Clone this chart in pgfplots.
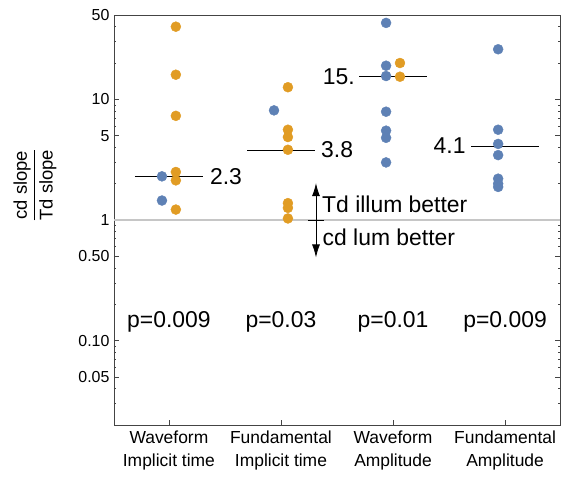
\documentclass[border=0pt]{standalone}
\usepackage{pgfplots}
\pgfplotsset{compat=1.18}
\usetikzlibrary{arrows.meta}
\usepackage{fontspec}
\setmainfont{Liberation Sans}
\definecolor{mblue}{HTML}{5E81B5}
\definecolor{morange}{HTML}{E19C24}
\definecolor{axgray}{HTML}{444444}
\newcommand\bigf{\fontsize{23}{27}\selectfont}
\newcommand\labf{\fontsize{18.5}{22}\selectfont}
\begin{document}
\begin{tikzpicture}
\useasboundingbox (-114bp,-52bp) rectangle (448bp,425bp);
\begin{axis}[
  at={(0,0)}, anchor=south west,
  scale only axis, width=446bp, height=410bp,
  ymode=log, ymin=0.02, ymax=50, xmin=0.51, xmax=4.49,
  clip=false,
  axis line style={axgray, line width=0.9bp},
  xtick={1,2,3,4},
  xticklabels={{Waveform\\Implicit time},{Fundamental\\Implicit time},{Waveform\\Amplitude},{Fundamental\\Amplitude}},
  xticklabel style={align=center, font=\fontsize{17.5}{23}\selectfont, yshift=-2bp},
  ytick={0.05,0.1,0.5,1,5,10,50},
  yticklabels={0.05,0.10,0.50,1,5,10,50},
  minor ytick={0.03,0.04,0.06,0.07,0.08,0.09,0.2,0.3,0.4,0.6,0.7,0.8,0.9,2,3,4,6,7,8,9,20,30,40},
  yticklabel style={font=\fontsize{16}{19}\selectfont, anchor=east, xshift=-1bp},
  tick align=inside,
  xtick pos=left, ytick pos=both,
  major tick length=5bp, minor tick length=2.5bp,
  tick style={axgray, line width=0.7bp},
  minor tick style={axgray, line width=0.6bp},
  ylabel={\labf${\displaystyle\frac{\mbox{\labf\rule[-4bp]{0pt}{4bp}cd slope}}{\mbox{\labf\rule{0pt}{17bp}Td slope}}}$},
  every axis y label/.style={at={(axis description cs:-0.177,0.585)}, anchor=center, rotate=90},
]
\addplot[color=gray!45, line width=1.3bp, forget plot] coordinates {(0.51,1) (4.49,1)};
% medians
\addplot[black, line width=0.8bp, forget plot] coordinates {(0.697,2.3) (1.303,2.3)};
\addplot[black, line width=0.8bp, forget plot] coordinates {(1.697,3.8) (2.303,3.8)};
\addplot[black, line width=0.8bp, forget plot] coordinates {(2.697,15.4) (3.303,15.4)};
\addplot[black, line width=0.8bp, forget plot] coordinates {(3.697,4.1) (4.303,4.1)};
% blue points
\addplot[only marks, mark=*, mark size=5bp, color=mblue, mark options={draw=mblue, fill=mblue}] coordinates {
 (0.938,2.3) (0.938,1.45)
 (1.938,8.1)
 (2.938,43) (2.938,19) (2.938,15.6) (2.938,7.9) (2.938,5.5) (2.938,4.8) (2.938,3.0)
 (3.938,26) (3.938,5.6) (3.938,4.27) (3.938,3.45) (3.938,2.2) (3.938,2.0) (3.938,1.88)
};
% orange points
\addplot[only marks, mark=*, mark size=5bp, color=morange, mark options={draw=morange, fill=morange}] coordinates {
 (1.062,40) (1.062,16) (1.062,7.3) (1.062,2.5) (1.062,2.13) (1.062,1.22)
 (2.062,12.6) (2.062,5.6) (2.062,4.87) (2.062,3.82) (2.062,1.38) (2.062,1.26) (2.062,1.03)
 (3.062,20) (3.062,15.4)
};
% median labels
\node[anchor=west, inner sep=0pt, font=\bigf] at (axis cs:1.366,2.3) {2.3};
\node[anchor=west, inner sep=0pt, font=\bigf] at (axis cs:2.357,3.8) {3.8};
\node[anchor=east, inner sep=0pt, font=\bigf] at (axis cs:2.661,15.4) {15.};
\node[anchor=east, inner sep=0pt, font=\bigf] at (axis cs:3.649,4.1) {4.1};
% arrows
\draw[black, line width=0.8bp, -{Latex[length=13bp, width=8bp]}] (axis cs:2.3125,1) -- (axis cs:2.3125,2.02);
\draw[black, line width=0.8bp, -{Latex[length=13bp, width=8bp]}] (axis cs:2.3125,1) -- (axis cs:2.3125,0.49);
\draw[black, line width=0.8bp] (axis cs:2.245,1) -- (axis cs:2.38,1);
\node[anchor=west, inner sep=0pt, font=\bigf] at (axis cs:2.366,1.36) {Td illum better};
\node[anchor=west, inner sep=0pt, font=\bigf] at (axis cs:2.37,0.72) {cd lum better};
% p-values
\node[anchor=base, inner sep=0pt, font=\bigf] at (axis cs:1,0.128) {p=0.009};
\node[anchor=base, inner sep=0pt, font=\bigf] at (axis cs:2,0.128) {p=0.03};
\node[anchor=base, inner sep=0pt, font=\bigf] at (axis cs:3,0.128) {p=0.01};
\node[anchor=base, inner sep=0pt, font=\bigf] at (axis cs:4,0.128) {p=0.009};
\end{axis}
\end{tikzpicture}
\end{document}
